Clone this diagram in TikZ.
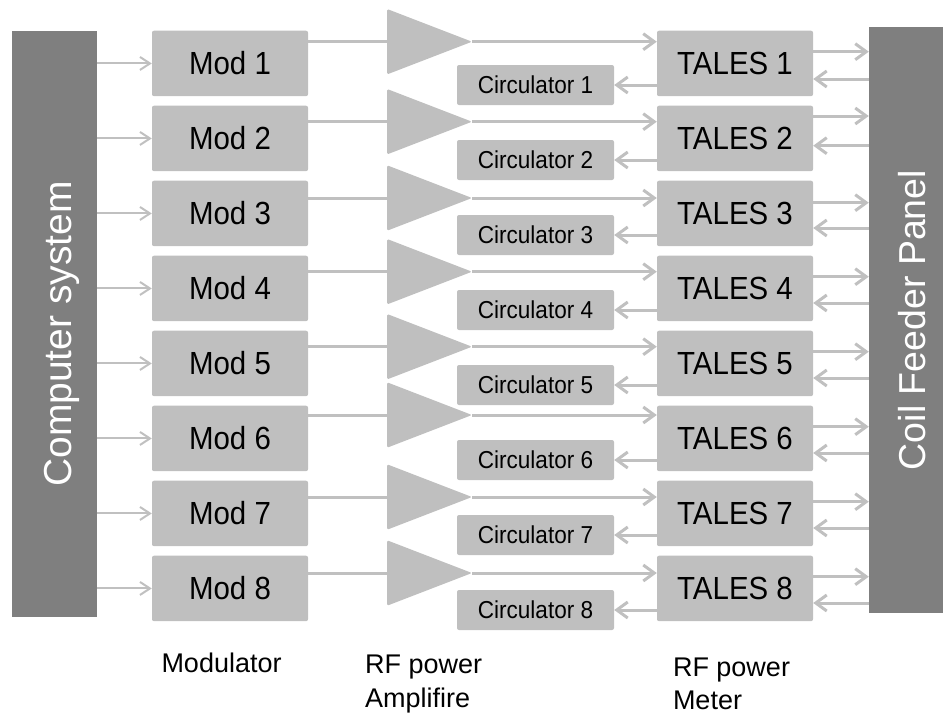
\documentclass[tikz,border=0pt]{standalone}
\usepackage{fontspec}
\setmainfont{Liberation Sans}
\newfontfamily\condfont{Liberation Sans}[FakeStretch=0.92]
\usetikzlibrary{arrows.meta,calc}
\definecolor{boxgray}{HTML}{BFBFBF}
\definecolor{darkgraybox}{HTML}{7F7F7F}
\definecolor{linegray}{HTML}{C0C0C0}
\begin{document}
\begin{tikzpicture}[x=1pt,y=-1pt,
  box/.style={fill=boxgray, rounded corners=2pt, inner sep=0pt},
  modbox/.style={box, minimum width=156pt, minimum height=65.5pt, font=\condfont\fontsize{32}{38}\selectfont},
  circbox/.style={box, minimum width=157pt, minimum height=40pt, font=\condfont\fontsize{24.5}{29}\selectfont},
  darkbox/.style={fill=darkgraybox, inner sep=0pt},
  vtext/.style={rotate=90, text=white, inner sep=0pt},
  sig/.style={draw=linegray, line width=3pt, -{Straight Barb[length=11pt,width=16pt]}},
  sigline/.style={draw=linegray, line width=3pt},
  ctl/.style={draw=linegray, line width=2pt, -{Straight Barb[length=10pt,width=13pt]}},
  amp/.style={fill=boxgray, rounded corners=1.5pt},
  lbl/.style={font=\fontsize{27}{33.5}\selectfont, align=left, anchor=base west, inner sep=0pt}]
\useasboundingbox (0,0) rectangle (943,715);

% side blocks
\node[darkbox, minimum width=85pt, minimum height=586.6pt] (comp) at (54.2,324) {};
\node[vtext, font=\fontsize{39}{45}\selectfont] (comptext) at (61.6,334) {Computer system};
\node[darkbox, minimum width=74pt, minimum height=585.7pt] (panel) at (906,320.15) {};
\node[vtext, font=\fontsize{37.5}{43}\selectfont] (paneltext) at (912.3,320) {Coil Feeder Panel};

\foreach \k/\ya/\po/\pb in {1/41.7/51.7/79, 2/121.7/116/145.7, 3/198/202.7/228, 4/271.7/276.7/303,
                            5/346.7/351.7/378, 6/415/426.7/453, 7/497/501.7/528, 8/573/576.7/603}{
  \node[modbox] (mod\k) at (230,{63.45+75*(\k-1)}) {Mod \k};
  \node[modbox] (tales\k) at (735,{63.45+75*(\k-1)}) {TALES \k};
  \node[circbox] (circ\k) at (535.5,{85+75*(\k-1)}) {Circulator \k};
  \coordinate (ampin\k) at (387,\ya);
  \coordinate (amp\k) at (472,\ya);
  \coordinate (po\k) at (813,\po);
  \coordinate (pb\k) at (869,\pb);
  % control signals
  \draw[ctl] (comp.east |- mod\k.west) -- (mod\k.west);
  % modulator -> amplifier -> TALES
  \draw[sigline] (mod\k.east |- ampin\k) -- (ampin\k);
  \draw[sig] (amp\k) -- (tales\k.west |- amp\k);
  \fill[amp] (387,{\ya-32.75}) -- (amp\k) -- (387,{\ya+32.75}) -- cycle;
  % TALES -> circulator
  \draw[sig] (circ\k.east -| tales\k.west) -- (circ\k.east);
  % TALES <-> panel
  \draw[sig] (po\k) -- (po\k -| panel.west);
  \draw[sig] (pb\k) -- (pb\k -| tales\k.east);
}

% captions (base anchor = baseline of the last line)
\node[lbl] (capmod) at (161.3,672.6) {Modulator};
\node[lbl] (capamp) at (365,707) {RF power\\Amplifire};
\node[lbl] (capmeter) at (672.8,709.5) {RF power\\Meter};
\end{tikzpicture}
\end{document}
